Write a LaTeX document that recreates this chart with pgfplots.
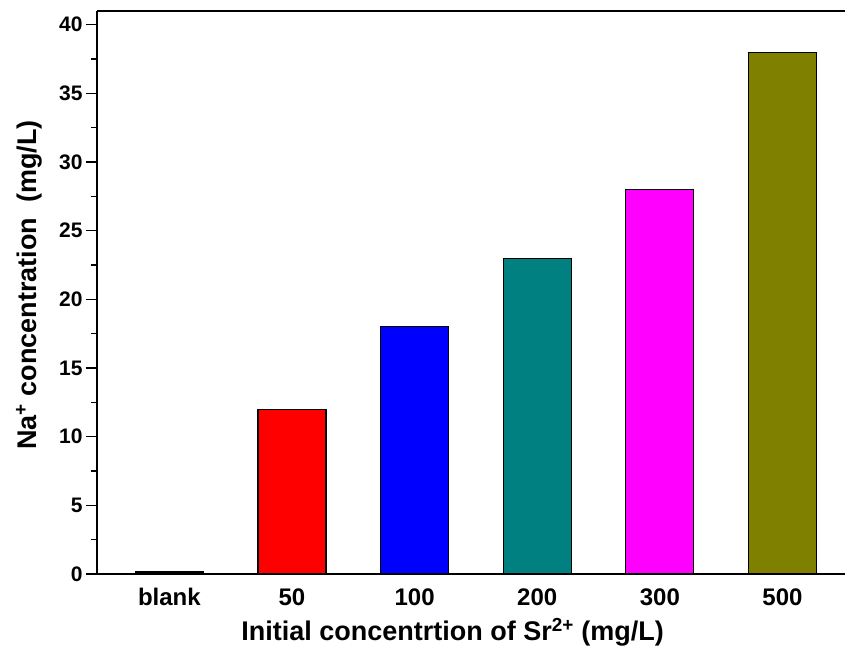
\documentclass[border=0pt]{standalone}
\usepackage{fontspec}
\setmainfont{Liberation Sans}
\usepackage{pgfplots}
\pgfplotsset{compat=1.18}
\definecolor{cteal}{RGB}{0,128,128}
\definecolor{colive}{RGB}{128,128,0}
\definecolor{cmag}{RGB}{255,0,255}
\definecolor{cred}{RGB}{255,0,0}
\definecolor{cblue}{RGB}{0,0,255}

\begin{document}
\begin{tikzpicture}
\begin{axis}[
  scale only axis,
  width=748bp, height=563bp,
  xmin=-0.59, xmax=5.51, ymin=0, ymax=41,
  axis x line*=box, axis y line*=left,
  axis line style={line width=1.4bp, black},
  ybar, bar width=0.555, bar shift=0pt,
  xtick={0,1,2,3,4,5},
  xticklabels={blank,50,100,200,300,500},
  xtick style={draw=none},
  xticklabel pos=lower,
  ytick={0,5,...,40}, minor ytick={2.5,7.5,...,37.5},
  ytick pos=left,
  tick align=outside,
  major tick length=11bp, minor tick length=6bp,
  y tick style={line width=1.2bp, black},
  /pgf/number format/assume math mode=true,
  y tick label style={font=\bfseries\fontsize{21bp}{24bp}\selectfont},
  x tick label style={font=\bfseries\fontsize{24bp}{28bp}\selectfont},
  xlabel={Initial concentrtion of Sr\textsuperscript{2+} (mg/L)},
  ylabel={Na\textsuperscript{+} concentration\ \ (mg/L)},
  label style={font=\bfseries\fontsize{27bp}{30bp}\selectfont},
  xlabel style={at={(rel axis cs:0.4753,0)}, anchor=center, yshift=-58bp},
  ylabel style={at={(rel axis cs:0,0.513)}, anchor=center, yshift=68bp},
]
\addplot[fill=black, draw=black, line width=1.2bp] coordinates {(0,0.2)};
\addplot[fill=cred, draw=black, line width=1.2bp] coordinates {(1,12)};
\addplot[fill=cblue, draw=black, line width=1.2bp] coordinates {(2,18)};
\addplot[fill=cteal, draw=black, line width=1.2bp] coordinates {(3,23)};
\addplot[fill=cmag, draw=black, line width=1.2bp] coordinates {(4,28)};
\addplot[fill=colive, draw=black, line width=1.2bp] coordinates {(5,38)};
\coordinate (bl) at (rel axis cs:0,0);
\coordinate (tr) at (rel axis cs:1,1);
\end{axis}
\pgfresetboundingbox
\path[use as bounding box] ([xshift=-97bp,yshift=-79bp]bl) rectangle ([yshift=11bp]tr);
\end{tikzpicture}
\end{document}
